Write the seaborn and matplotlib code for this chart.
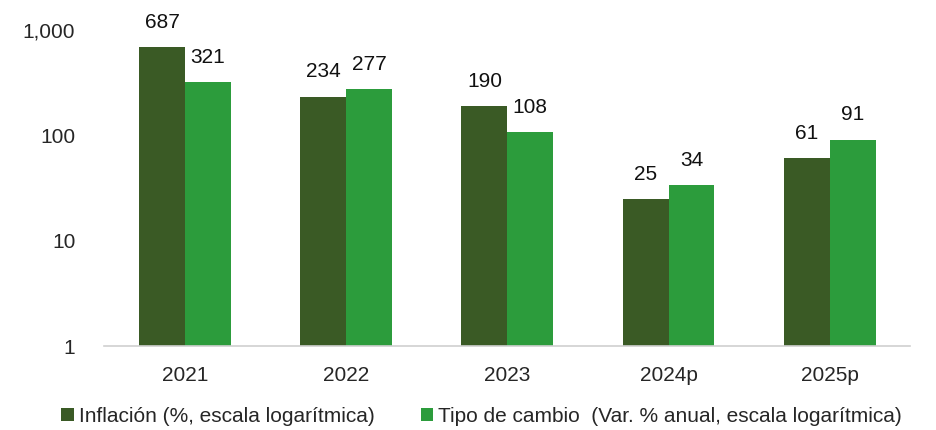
import matplotlib
matplotlib.use("Agg")
import matplotlib.pyplot as plt
import matplotlib.ticker as mticker
import pandas as pd
import seaborn as sns

years = ["2021", "2022", "2023", "2024p", "2025p"]
inflacion = [687, 234, 190, 25, 61]
tipo_cambio = [321, 277, 108, 34, 91]
series_names = ["Inflación (%, escala logarítmica)",
                "Tipo de cambio  (Var. % anual, escala logarítmica)"]
colors = ["#3A5A25", "#2C9C3C"]
y_ticks = [1, 10, 100, 1000]

df = pd.DataFrame({
    "year": years * 2,
    "value": inflacion + tipo_cambio,
    "serie": [series_names[0]] * len(years) + [series_names[1]] * len(years),
})

sns.set_theme(style="white")
plt.rcParams["font.family"] = ["Liberation Sans", "DejaVu Sans"]

fig = plt.figure(figsize=(9.37, 4.30), dpi=100)
ax = fig.add_axes([0.1115, 0.195, 0.86, 0.735])
ax.set_yscale("log", nonpositive="clip")

sns.barplot(data=df, x="year", y="value", hue="serie", order=years,
            hue_order=series_names, palette=colors, saturation=1,
            width=0.57, linewidth=0, ax=ax)

ax.set_ylim(1, 1000)
ax.set_yticks(y_ticks)
ax.yaxis.set_major_formatter(mticker.FuncFormatter(lambda v, p: f"{v:,.0f}"))
ax.yaxis.set_minor_locator(mticker.NullLocator())
ax.set_xlabel("")
ax.set_ylabel("")
ax.tick_params(axis="y", labelsize=15, length=0, pad=21)
ax.tick_params(axis="x", labelsize=15, length=0, pad=14)

for s in ["top", "right", "left"]:
    ax.spines[s].set_visible(False)
ax.spines["bottom"].set_color("#D0D0D0")
ax.spines["bottom"].set_linewidth(1.2)

for cont in ax.containers:
    ax.bar_label(cont, labels=[f"{v:.0f}" for v in cont.datavalues],
                 padding=11, fontsize=15, color="#111111")

ax.legend(loc="upper center", bbox_to_anchor=(0.468, -0.165), ncol=2,
          frameon=False, fontsize=15, handlelength=0.6, handleheight=0.6,
          handletextpad=0.25, columnspacing=2.2, borderaxespad=0)

fig.savefig("out.png", dpi=100)
